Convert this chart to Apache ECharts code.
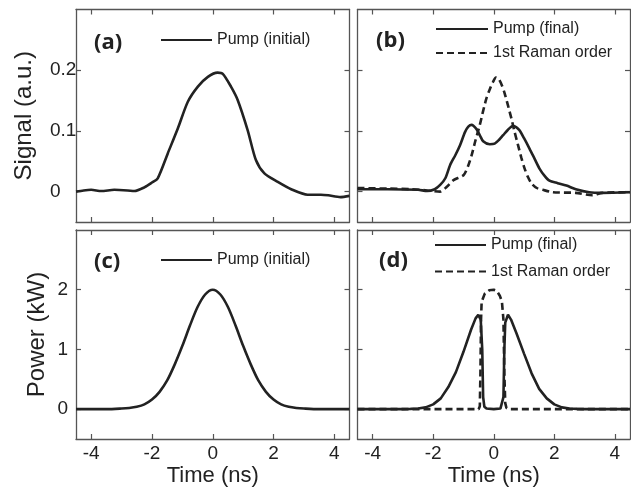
<!DOCTYPE html>
<html>
<head>
<meta charset="utf-8">
<script src="https://cdn.jsdelivr.net/npm/echarts@6/dist/echarts.min.js"></script>
<style>
html,body{margin:0;padding:0;background:#fff;}
#chart{width:631px;height:488px;}
</style>
</head>
<body>
<div id="chart"></div>
<script>
// ---- data ----
const xTicks = [-4, -2, 0, 2, 4];
const signalTicks = [0, 0.1, 0.2];
const powerTicks = [0, 1, 2];

// (a) measured pump (initial)
const timeA = [-4.5,-4.25,-4.0,-3.67,-3.24,-2.8,-2.58,-2.25,-2.0,-1.81,-1.48,-1.15,-0.82,-0.49,-0.16,0.16,0.33,0.6,0.82,1.15,1.42,1.7,2.14,2.58,3.12,3.56,3.8,4.2,4.5];
const pumpInitialA = [0.0,0.002,0.003,0.001,0.003,0.002,0.001,0.007,0.015,0.022,0.063,0.104,0.148,0.173,0.189,0.196,0.194,0.173,0.151,0.101,0.052,0.030,0.016,0.004,-0.005,-0.005,-0.006,-0.009,-0.007];

// (b) measured pump (final)
const timeBPump = [-4.5,-3.5,-2.5,-2.2,-1.95,-1.77,-1.6,-1.44,-1.27,-1.11,-0.95,-0.84,-0.73,-0.57,-0.45,-0.35,-0.13,0.03,0.17,0.31,0.47,0.63,0.75,0.85,1.0,1.18,1.35,1.51,1.68,1.84,2.11,2.4,2.71,3.15,3.58,4.5];
const pumpFinalB = [0.004,0.004,0.003,0.001,0.004,0.011,0.022,0.044,0.060,0.077,0.098,0.107,0.110,0.103,0.092,0.083,0.078,0.079,0.085,0.093,0.102,0.108,0.106,0.101,0.088,0.071,0.054,0.038,0.026,0.018,0.014,0.010,0.004,-0.001,-0.002,-0.001];

// (b) measured 1st Raman order
const timeBRaman = [-4.5,-3.5,-2.75,-2.2,-1.77,-1.55,-1.33,-1.0,-0.85,-0.73,-0.6,-0.46,-0.35,-0.24,-0.12,-0.02,0.07,0.17,0.27,0.36,0.47,0.58,0.69,0.8,0.91,1.02,1.13,1.24,1.42,1.62,1.95,2.7,3.26,3.58,4.5];
const ramanB = [0.006,0.005,0.004,0.002,0.0,0.008,0.019,0.027,0.042,0.060,0.085,0.110,0.133,0.154,0.170,0.181,0.188,0.185,0.175,0.162,0.142,0.121,0.098,0.077,0.056,0.038,0.024,0.014,0.006,0.003,-0.001,-0.002,-0.006,-0.002,-0.001];

// (c) simulated pump (initial)
const timeC = [-4.5,-3.5,-3.0,-2.75,-2.5,-2.25,-2.0,-1.75,-1.5,-1.25,-1.0,-0.75,-0.5,-0.25,0,0.25,0.5,0.75,1.0,1.25,1.5,1.75,2.0,2.25,2.5,2.75,3.0,3.5,4.5];
const pumpInitialC = [0,0,0.01,0.02,0.04,0.08,0.16,0.29,0.48,0.75,1.06,1.40,1.71,1.92,2.0,1.92,1.71,1.40,1.06,0.75,0.48,0.29,0.16,0.08,0.04,0.02,0.01,0,0];

// (d) simulated pump (final)
const timeDPump = [-4.5,-3.0,-2.75,-2.5,-2.25,-2.0,-1.75,-1.5,-1.25,-1.0,-0.75,-0.6,-0.51,-0.43,-0.38,-0.35,-0.31,-0.24,0.0,0.22,0.28,0.32,0.35,0.38,0.47,0.57,0.75,1.0,1.25,1.5,1.75,2.0,2.25,2.5,2.75,3.0,4.5];
const pumpFinalD = [0,0,0.004,0.01,0.03,0.08,0.18,0.37,0.62,0.96,1.33,1.52,1.58,1.50,1.0,0.2,0.04,0.01,0.0,0.01,0.04,0.2,1.0,1.45,1.58,1.50,1.27,0.93,0.60,0.34,0.18,0.08,0.03,0.01,0.004,0,0];

// (d) simulated 1st Raman order
const timeDRaman = [-4.5,-0.5,-0.46,-0.44,-0.42,-0.4,-0.3,-0.15,0,0.1,0.2,0.27,0.32,0.35,0.38,0.42,0.5,4.5];
const ramanD = [0,0,0.05,0.6,1.5,1.8,1.93,1.99,2.0,1.98,1.9,1.8,1.5,0.6,0.1,0.02,0,0];

// ---- chart ----
const zip = (t, v) => t.map((x, i) => [x, v[i]]);
const FONT = 'Liberation Sans, Arial, sans-serif';
const INK = '#222';
const BOX = '#555';

const grids = [
  {left: 76, top: 9.5, width: 273.5, height: 212.5},
  {left: 357.5, top: 9.5, width: 272.5, height: 212.5},
  {left: 76, top: 230, width: 273.5, height: 210},
  {left: 357.5, top: 230, width: 272.5, height: 210}
];

function xAx(grid, position, showLabels, name) {
  return {
    type: 'value', gridIndex: grid, position: position,
    min: -4.5, max: 4.5,
    axisLine: {show: true, onZero: false, lineStyle: {color: BOX, width: 1.3}},
    axisTick: {show: true, inside: true, length: 5, customValues: xTicks, lineStyle: {color: BOX, width: 1.2}},
    axisLabel: {show: showLabels, customValues: xTicks, margin: 5, fontSize: 19, color: INK, fontFamily: FONT},
    splitLine: {show: false},
    name: name || '', nameLocation: 'middle', nameGap: 26,
    nameTextStyle: {fontSize: 22, color: INK, fontFamily: FONT}
  };
}
function yAx(grid, position, min, max, ticks, showLabels, name, nameGap, labelOpts) {
  return {
    type: 'value', gridIndex: grid, position: position,
    min: min, max: max,
    axisLine: {show: true, onZero: false, lineStyle: {color: BOX, width: 1.3}},
    axisTick: {show: true, inside: true, length: 5, customValues: ticks, lineStyle: {color: BOX, width: 1.2}},
    axisLabel: Object.assign({show: showLabels, customValues: ticks, fontSize: 19, color: INK, fontFamily: FONT}, labelOpts || {}),
    splitLine: {show: false},
    name: name || '', nameLocation: 'middle', nameGap: nameGap || 0, nameRotate: 90,
    nameTextStyle: {fontSize: 24, color: INK, fontFamily: FONT}
  };
}

const solid = {color: INK, width: 2.6, type: 'solid'};
const dashed = {color: INK, width: 2.6, type: [7, 4]};
function lineSeries(name, xi, t, v, style, smooth) {
  return {
    name: name, type: 'line', xAxisIndex: xi, yAxisIndex: xi,
    data: zip(t, v), showSymbol: false, symbol: 'none',
    smooth: smooth || false,
    lineStyle: style, itemStyle: {color: INK}, animation: false, silent: true
  };
}

const legendBase = {
  padding: 0, itemWidth: 51, itemHeight: 16, selectedMode: false,
  itemStyle: {opacity: 0, borderWidth: 0},
  textStyle: {fontSize: 16, color: INK, fontFamily: FONT}
};

const labelFont = 'bold 22px "Open Sans", sans-serif';

const option = {
  animation: false,
  backgroundColor: '#fff',
  grid: grids,
  xAxis: [
    xAx(0, 'bottom', false), xAx(0, 'top', false),
    xAx(1, 'bottom', false), xAx(1, 'top', false),
    xAx(2, 'bottom', true, 'Time (ns)'), xAx(2, 'top', false),
    xAx(3, 'bottom', true, 'Time (ns)'), xAx(3, 'top', false)
  ],
  yAxis: [
    yAx(0, 'left', -0.05, 0.3, signalTicks, true, 'Signal (a.u.)', 40, {align: 'left', margin: 26}),
    yAx(0, 'right', -0.05, 0.3, signalTicks, false),
    yAx(1, 'left', -0.05, 0.3, signalTicks, false),
    yAx(1, 'right', -0.05, 0.3, signalTicks, false),
    yAx(2, 'left', -0.5, 3, powerTicks, true, 'Power (kW)', 27, {align: 'right', margin: 8}),
    yAx(2, 'right', -0.5, 3, powerTicks, false),
    yAx(3, 'left', -0.5, 3, powerTicks, false),
    yAx(3, 'right', -0.5, 3, powerTicks, false)
  ],
  legend: [
    Object.assign({}, legendBase, {data: ['Pump (initial)'], left: 160, top: 32}),
    Object.assign({}, legendBase, {data: ['Pump (final)', '1st Raman order'], orient: 'vertical', left: 435, top: 21, itemGap: 8, itemWidth: 52}),
    Object.assign({}, legendBase, {data: ['Pump (initial)'], left: 160, top: 252}),
    Object.assign({}, legendBase, {data: ['Pump (final)', '1st Raman order'], orient: 'vertical', left: 434, top: 237, itemGap: 10.5})
  ],
  graphic: [
    {type: 'text', x: 94, y: 43, style: {text: '(a)', font: labelFont, fill: INK, verticalAlign: 'middle'}},
    {type: 'text', x: 376, y: 41, style: {text: '(b)', font: labelFont, fill: INK, verticalAlign: 'middle'}},
    {type: 'text', x: 94, y: 262, style: {text: '(c)', font: labelFont, fill: INK, verticalAlign: 'middle'}},
    {type: 'text', x: 379, y: 261, style: {text: '(d)', font: labelFont, fill: INK, verticalAlign: 'middle'}}
  ],
  series: [
    lineSeries('Pump (initial)', 0, timeA, pumpInitialA, solid, 0.25),
    lineSeries('Pump (final)', 2, timeBPump, pumpFinalB, solid, 0.25),
    lineSeries('1st Raman order', 2, timeBRaman, ramanB, dashed, 0.25),
    lineSeries('Pump (initial)', 4, timeC, pumpInitialC, solid, 0.3),
    lineSeries('Pump (final)', 6, timeDPump, pumpFinalD, solid, false),
    lineSeries('1st Raman order', 6, timeDRaman, ramanD, dashed, false)
  ]
};

const chart = echarts.init(document.getElementById('chart'), null, {renderer: 'canvas'});
chart.setOption(option);
</script>
</body>
</html>
